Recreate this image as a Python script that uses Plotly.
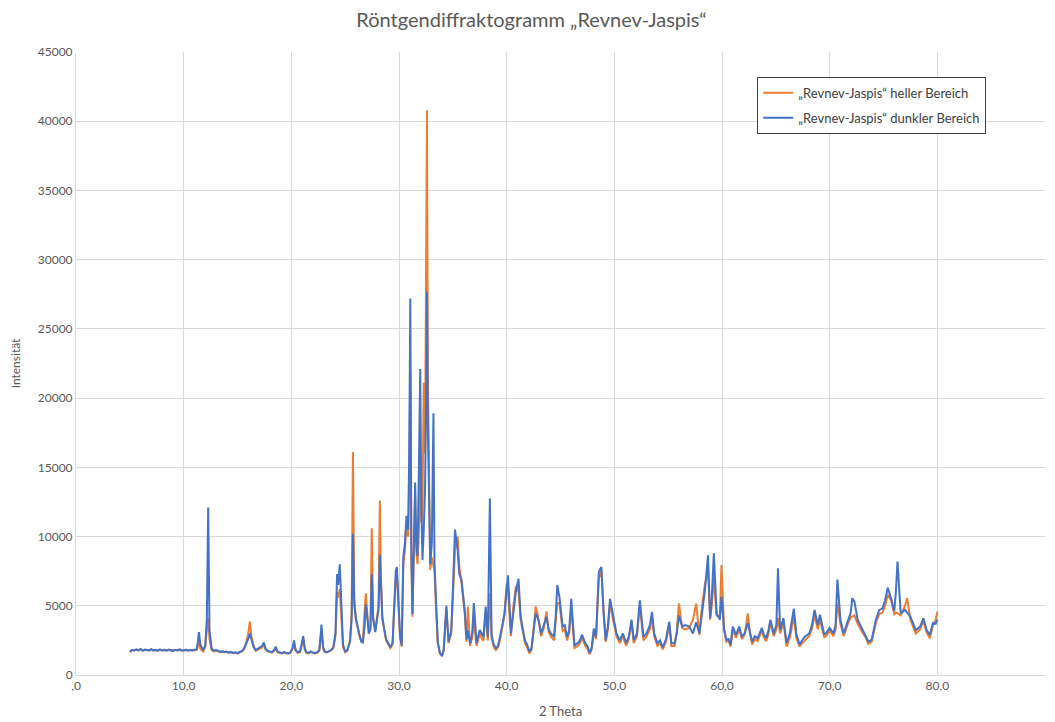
import plotly.graph_objects as go

# 2-Theta positions (shared by both series)
theta = [
    # 5-11
    5.0, 5.2, 5.4, 5.6, 5.8, 6.0, 6.2, 6.4, 6.6, 6.8, 7.0, 7.2, 7.4, 7.6, 7.8, 8.0,
    8.2, 8.4, 8.6, 8.8, 9.0, 9.2, 9.4, 9.6, 9.8, 10.0, 10.2, 10.4, 10.6, 10.8, 11.0,
    # 11-13
    11.2, 11.3, 11.42, 11.55, 11.8, 12.0, 12.15, 12.28, 12.4, 12.6, 12.8, 13.0,
    # 13-20
    13.2, 13.4, 13.6, 13.8, 14.0, 14.2, 14.4, 14.6, 14.8, 15.0, 15.2, 15.4, 15.6, 15.8,
    16.0, 16.15, 16.3, 16.5, 16.7, 16.9, 17.1, 17.3, 17.45, 17.6, 17.8, 18.0, 18.2,
    18.4, 18.55, 18.7, 18.9, 19.1, 19.3, 19.5, 19.7, 19.9,
    # 20-24
    20.1, 20.25, 20.4, 20.6, 20.8, 20.95, 21.1, 21.25, 21.4, 21.6, 21.8, 22.0, 22.2,
    22.4, 22.6, 22.8, 22.95, 23.1, 23.3, 23.5, 23.7, 23.9,
    # 24-30.3
    24.1, 24.25, 24.35, 24.5, 24.65, 24.8, 25.0, 25.2, 25.45, 25.6, 25.72, 25.85, 26.0,
    26.15, 26.3, 26.5, 26.65, 26.8, 26.92, 27.05, 27.2, 27.35, 27.47, 27.6, 27.8, 27.95,
    28.1, 28.22, 28.32, 28.45, 28.6, 28.8, 29.0, 29.2, 29.4, 29.55, 29.7, 29.8, 29.95,
    30.1, 30.25,
    # 30.3-34.3
    30.4, 30.55, 30.7, 30.85, 30.95, 31.05, 31.15, 31.25, 31.4, 31.5, 31.6, 31.72, 31.85,
    31.97, 32.08, 32.18, 32.3, 32.42, 32.52, 32.6, 32.68, 32.78, 32.9, 33.05, 33.2, 33.3,
    33.45, 33.6, 33.8, 34.0, 34.15,
    # 34.3-40
    34.4, 34.6, 34.85, 35.0, 35.2, 35.45, 35.6, 35.8, 35.95, 36.1, 36.27, 36.4, 36.6,
    36.8, 36.95, 37.2, 37.5, 37.7, 37.85, 38.05, 38.25, 38.44, 38.6, 38.8, 39.0, 39.2,
    39.4, 39.6, 39.8,
    # 40-50
    40.0, 40.12, 40.4, 40.6, 40.85, 41.1, 41.3, 41.5, 41.7, 41.9, 42.1, 42.3, 42.5, 42.7,
    42.85, 43.0, 43.2, 43.45, 43.7, 43.9, 44.1, 44.4, 44.55, 44.7, 44.9, 45.2, 45.4, 45.6,
    45.8, 46.0, 46.3, 46.6, 46.8, 47.0, 47.3, 47.5, 47.7, 47.9, 48.1, 48.3, 48.56, 48.8,
    49.0, 49.2, 49.4, 49.6, 49.9,
    # 50-61
    50.2, 50.5, 50.8, 51.1, 51.35, 51.6, 51.8, 52.1, 52.37, 52.7, 53.0, 53.3, 53.5, 53.7,
    54.0, 54.25, 54.5, 54.8, 55.1, 55.3, 55.6, 55.8, 56.0, 56.3, 56.6, 56.95, 57.3, 57.6,
    57.9, 58.15, 58.4, 58.7, 58.9, 59.05, 59.24, 59.5, 59.8, 59.95, 60.2, 60.4, 60.6, 60.8,
    # 61-80
    61.0, 61.3, 61.6, 61.85, 62.1, 62.4, 62.6, 62.8, 63.05, 63.3, 63.5, 63.7, 63.9, 64.1,
    64.3, 64.5, 64.8, 65.05, 65.2, 65.4, 65.7, 66.0, 66.3, 66.67, 66.9, 67.2, 67.45, 67.7,
    68.1, 68.35, 68.6, 68.9, 69.1, 69.5, 69.75, 70.0, 70.35, 70.55, 70.72, 71.0, 71.3,
    71.7, 71.95, 72.1, 72.3, 72.6, 72.85, 73.1, 73.35, 73.6, 73.9, 74.3, 74.6, 74.9,
    75.15, 75.4, 75.7, 76.0, 76.15, 76.3, 76.6, 77.0, 77.2, 77.5, 78.0, 78.4, 78.7, 79.0,
    79.3, 79.6, 79.85, 80.0,
]

# "Revnev-Jaspis" heller Bereich (orange)
heller = [
    1650, 1780, 1800, 1820, 1760, 1850, 1790, 1800, 1770, 1820, 1830, 1760, 1790, 1780, 1810, 1750,
    1840, 1790, 1800, 1760, 1770, 1790, 1810, 1800, 1760, 1790, 1800, 1780, 1770, 1810, 1790,
    1800, 2000, 2400, 1900, 1700, 2000, 3200, 4100, 2600, 1800, 1700, 1750,
    1720, 1650, 1700, 1640, 1680, 1600, 1650, 1580, 1620, 1560, 1640, 1700, 1850, 2300,
    3000, 3850, 2700, 2100, 1750, 1850, 1900, 2000, 2250, 1850, 1700, 1650, 1620,
    1750, 1950, 1650, 1600, 1560, 1620, 1580, 1540, 1600,
    1850, 2300, 1750, 1600, 1650, 2100, 2600, 1850, 1600, 1560, 1650, 1600, 1560,
    1600, 1750, 3200, 1900, 1650, 1620, 1700, 1780, 1950,
    2800, 6000, 5600, 6200, 4000, 2000, 1650, 1750, 2500, 4500, 16100, 5500, 4000,
    3400, 2900, 2400, 2600, 4500, 5900, 4500, 3000, 3500, 10600, 4200, 3200, 4100,
    5000, 12600, 7000, 4100, 3300, 2500, 2200, 1950, 2200, 4200, 7000, 7400, 5000,
    2700, 2050,
    8000, 9000, 11000, 10000, 14000, 22000, 8000, 4200, 8500, 13000, 9000, 8000, 10500,
    15000, 11000, 12000, 21100, 16000, 30000, 40800, 22000, 13000, 7600, 8500, 8000, 7500,
    4600, 2300, 1550, 1350, 1750,
    4800, 2300, 3000, 5500, 9000, 10000, 7800, 6700, 5800, 4500, 2400, 4950, 2100,
    2700, 4000, 2100, 3000, 2600, 2500, 4500, 2500, 5900, 2700, 2000, 1800, 2000,
    2600, 3400, 4300,
    6600, 6000, 2800, 4800, 6400, 6000, 4000, 3000, 2300, 2000, 1550, 1800, 3300, 4950,
    4500, 3700, 2800, 3400, 4600, 3100, 2800, 2500, 3800, 5200, 5200, 3200, 3300, 2500,
    3000, 4800, 1950, 2100, 2300, 2700, 2100, 1900, 1500, 1850, 3200, 2600, 7000, 7500,
    4700, 2400, 3300, 5200, 3900,
    2800, 2300, 2800, 2100, 2600, 3800, 2300, 2800, 5000, 2500, 2800, 3300, 4200, 2800,
    2100, 2300, 1850, 2400, 3600, 2100, 2100, 3200, 5150, 3400, 3300, 3400, 4000, 5150,
    2900, 5000, 6500, 7500, 4000, 5000, 7000, 4300, 4200, 7950, 3300, 2400, 2500, 2050,
    3300, 2700, 3300, 2600, 2900, 4450, 3000, 2200, 2600, 2450, 2800, 3200, 2700, 2450,
    2900, 3800, 2800, 3300, 4100, 3000, 3800, 2050, 2700, 4200, 2700, 2050, 2300, 2500,
    2800, 3300, 4300, 3300, 4000, 2700, 2900, 3200, 2800, 3300, 5180, 3700, 2800,
    3700, 4200, 4220, 4300, 3700, 3300, 3000, 2700, 2250, 2400, 3800, 4400, 4500,
    5000, 5800, 5400, 4400, 4500, 4460, 4300, 5000, 5550, 4000, 3000, 3300, 3900, 3100,
    2650, 3600, 4000, 4580,
]

# "Revnev-Jaspis" dunkler Bereich (blue)
dunkler = [
    1700, 1820, 1760, 1850, 1790, 1880, 1750, 1830, 1800, 1760, 1870, 1790, 1820, 1740, 1850, 1780,
    1810, 1760, 1840, 1790, 1730, 1820, 1770, 1850, 1790, 1760, 1830, 1750, 1800, 1780, 1820,
    1850, 2300, 3100, 2200, 1800, 2100, 4000, 12100, 3200, 1900, 1750, 1800,
    1750, 1680, 1720, 1650, 1700, 1620, 1680, 1600, 1640, 1580, 1660, 1720, 1900, 2200,
    2600, 3000, 2500, 2000, 1800, 1900, 1950, 2100, 2350, 1900, 1750, 1700, 1650,
    1800, 2050, 1700, 1620, 1580, 1650, 1600, 1560, 1620,
    1900, 2500, 1800, 1650, 1700, 2200, 2800, 1900, 1650, 1600, 1700, 1620, 1580,
    1650, 1800, 3650, 2000, 1700, 1650, 1720, 1800, 2000,
    3000, 7300, 6500, 8000, 4500, 2200, 1700, 1800, 2400, 4000, 10200, 5000, 4100,
    3500, 3000, 2400, 2350, 3500, 5100, 4200, 3000, 3300, 7300, 4000, 3100, 4000,
    4700, 8700, 6800, 4200, 3400, 2600, 2300, 2000, 2300, 4500, 7500, 7800, 5200,
    2800, 2150,
    8500, 9500, 11500, 10500, 16000, 27200, 9000, 4400, 9000, 13900, 9500, 8600, 15000,
    22100, 12000, 8300, 10500, 13500, 20000, 27700, 18000, 13400, 8000, 9500, 18900, 8000,
    4800, 2400, 1600, 1400, 1800,
    5000, 2400, 3200, 6000, 10500, 9000, 7300, 6900, 6000, 4700, 2550, 3200, 2300,
    3000, 5200, 2300, 3250, 2900, 2750, 4950, 2750, 12750, 2900, 2200, 1950, 2100,
    2800, 3600, 4500,
    6000, 7200, 3000, 4500, 6000, 6950, 4200, 3300, 2500, 2200, 1700, 1900, 3000, 4450,
    4200, 3850, 3000, 3600, 4200, 3300, 3000, 2750, 4200, 6500, 5650, 3500, 3600, 2750,
    3200, 5500, 2150, 2300, 2500, 2900, 2300, 2100, 1600, 2000, 3350, 2750, 7450, 7800,
    4450, 2500, 3500, 5500, 4100,
    3000, 2500, 3000, 2300, 2800, 4000, 2500, 3000, 5400, 2750, 3000, 3600, 4550, 3000,
    2300, 2500, 2000, 2600, 3850, 2300, 2300, 3000, 4300, 3500, 3600, 3500, 3000, 3800,
    3000, 4500, 6000, 8650, 4100, 5500, 8800, 4450, 4000, 5650, 3250, 2550, 2600, 2200,
    3500, 2900, 3500, 2770, 3000, 3750, 3000, 2400, 2800, 2650, 3000, 3400, 2900, 2650,
    3200, 4000, 3000, 3600, 7700, 3250, 4100, 2300, 3000, 4800, 3000, 2200, 2500, 2770,
    3000, 3600, 4700, 3600, 4350, 2900, 3100, 3400, 3000, 3600, 6900, 4000, 3000,
    4000, 4500, 5550, 5300, 4000, 3600, 3250, 2900, 2400, 2550, 4000, 4700, 4800,
    5400, 6300, 5550, 4600, 6000, 8200, 4450, 4700, 4500, 4200, 3250, 3500, 4100, 3250,
    2900, 3750, 3700, 4000,
]

x_tickvals = [0, 10, 20, 30, 40, 50, 60, 70, 80, 90]
x_ticktext = [",0", "10,0", "20,0", "30,0", "40,0", "50,0", "60,0", "70,0", "80,0", "90,0"]
y_tickvals = [0, 5000, 10000, 15000, 20000, 25000, 30000, 35000, 40000, 45000]

assert len(theta) == len(heller) == len(dunkler), (len(theta), len(heller), len(dunkler))

FONT = "Lato"
GREY = "#595959"
GRID = "#d9d9d9"

fig = go.Figure()
fig.add_trace(go.Scatter(
    x=theta, y=heller, mode="lines",
    name="„Revnev-Jaspis“ heller Bereich", legendgroup="a",
    line=dict(color="#ED7D31", width=2),
))
fig.add_trace(go.Scatter(
    x=theta, y=dunkler, mode="lines",
    name="„Revnev-Jaspis“ dunkler Bereich", legendgroup="b",
    line=dict(color="#4472C4", width=2),
))

# page has an 8px body margin, so the figure is sized to fit inside the window
fig.update_layout(
    width=1047, height=714,
    paper_bgcolor="white", plot_bgcolor="white",
    margin=dict(l=68, r=10, t=44, b=47),
    font=dict(family=FONT, color=GREY, size=12),
    title=dict(
        text="Röntgendiffraktogramm „Revnev-Jaspis“",
        x=0.5, xanchor="center", y=0.983, yanchor="middle",
        font=dict(family=FONT, size=20, color=GREY),
    ),
    legend=dict(
        x=0.703, y=0.96, xanchor="left", yanchor="top",
        bordercolor="#404040", borderwidth=1, bgcolor="white",
        font=dict(family=FONT, size=13, color="#404040"),
        itemwidth=30, tracegroupgap=5,
    ),
    showlegend=True,
)
fig.update_xaxes(
    range=[0, 90], tickvals=x_tickvals, ticktext=x_ticktext,
    showgrid=True, gridcolor=GRID, gridwidth=1, zeroline=False,
    showline=True, linecolor=GRID, linewidth=1, mirror=False,
    ticks="", tickfont=dict(size=12, color=GREY), automargin=False,
    title=dict(text="2 Theta", font=dict(size=13, color=GREY), standoff=14),
)
fig.update_yaxes(
    range=[0, 45000], tickvals=y_tickvals, tickformat="d",
    showgrid=True, gridcolor=GRID, gridwidth=1, zeroline=False,
    showline=True, linecolor=GRID, linewidth=1, automargin=False,
    ticks="", tickfont=dict(size=12, color=GREY),
    title=dict(text="Intensität", font=dict(size=12, color=GREY), standoff=14),
)

fig.write_html("out.html")
